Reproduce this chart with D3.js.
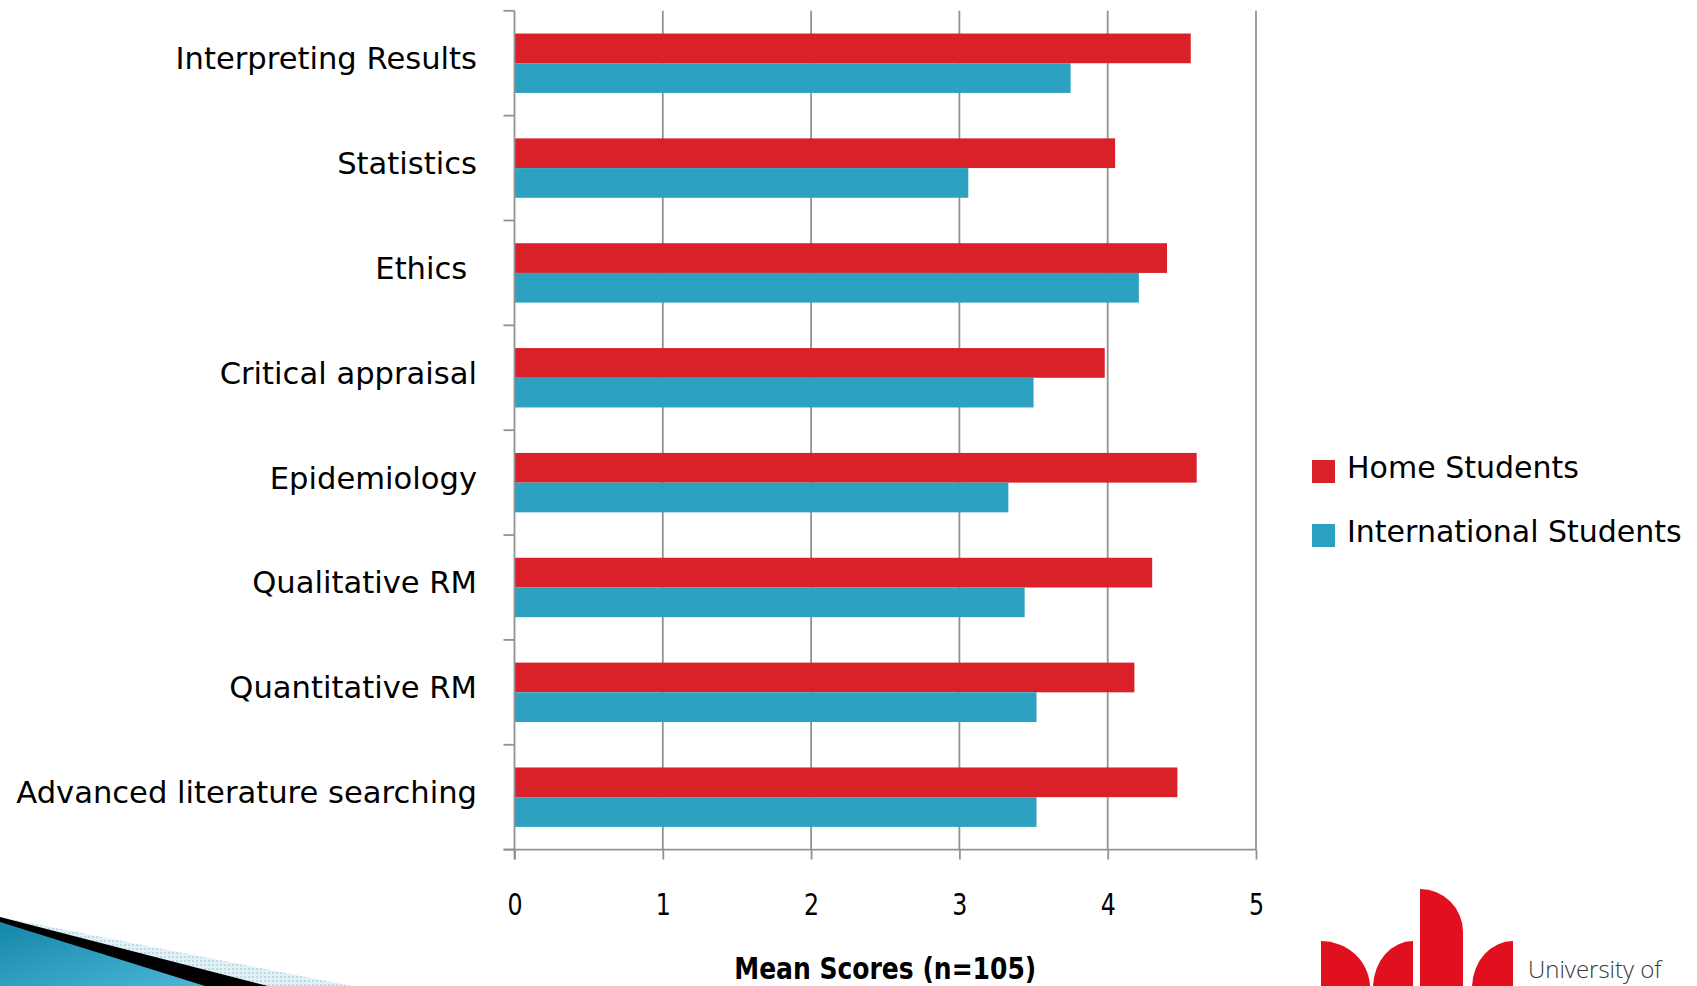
<!DOCTYPE html>
<html>
<head>
<meta charset="utf-8">
<script src="https://cdn.jsdelivr.net/npm/d3@7"></script>
<style>
  html, body { margin: 0; padding: 0; background: #ffffff; }
  svg { display: block; }
</style>
</head>
<body>
<script>
// ---- data ----
const categories = [
  "Interpreting Results",
  "Statistics",
  "Ethics ",
  "Critical appraisal",
  "Epidemiology",
  "Qualitative RM",
  "Quantitative RM",
  "Advanced literature searching"
];
const seriesNames = ["Home Students", "International Students"];
const homeValues = [4.56, 4.05, 4.40, 3.98, 4.60, 4.30, 4.18, 4.47];
const internationalValues = [3.75, 3.06, 4.21, 3.50, 3.33, 3.44, 3.52, 3.52];
const xTickValues = [0, 1, 2, 3, 4, 5];
const xAxisTitle = "Mean Scores (n=105)";
const logoText = "University of";

// ---- layout / style ----
const W = 1697, H = 986;
const colors = { "Home Students": "#da2029", "International Students": "#2ca2c0" };
const gridColor = "#929292";
const labelFont = "'DejaVu Sans', 'Lucida Grande', sans-serif";
const condFont = "'Liberation Sans Narrow', 'DejaVu Sans Condensed', 'Arial Narrow', 'DejaVu Sans', sans-serif";

const svg = d3.select("body").append("svg")
  .attr("width", W).attr("height", H);

// decorations (slide background elements)
const defs = svg.append("defs");
const grad = defs.append("linearGradient").attr("id", "swoosh")
  .attr("x1", "0").attr("y1", "0").attr("x2", "1").attr("y2", "1");
grad.append("stop").attr("offset", "0").attr("stop-color", "#1487aa");
grad.append("stop").attr("offset", "1").attr("stop-color", "#4cb6d6");
const pat = defs.append("pattern").attr("id", "pale")
  .attr("width", 4).attr("height", 4).attr("patternUnits", "userSpaceOnUse");
pat.append("rect").attr("width", 4).attr("height", 4).attr("fill", "#e3f1f6");
pat.append("rect").attr("width", 2).attr("height", 2).attr("fill", "#b9dbe8");

const deco = svg.append("g");
deco.append("path").attr("d", "M0,917 L352,986 L0,986 Z").attr("fill", "url(#pale)");
deco.append("path").attr("d", "M0,917 L268,986 L0,986 Z").attr("fill", "#000");
deco.append("path").attr("d", "M0,922 L205,986 L0,986 Z").attr("fill", "url(#swoosh)");

const logo = svg.append("g").attr("fill", "#e0101f");
logo.append("path").attr("d", "M1321,986 V941 A49,47 0 0 1 1370,986 Z");
logo.append("path").attr("d", "M1413,986 V941 A40,47 0 0 0 1373,986 Z");
logo.append("path").attr("d", "M1420,986 V889 A43,43 0 0 1 1463,932 V986 Z");
logo.append("path").attr("d", "M1513,986 V941 A41,47 0 0 0 1472,986 Z");
svg.append("text").attr("x", 1528).attr("y", 978)
  .attr("font-family", "'Open Sans', 'DejaVu Sans', sans-serif")
  .attr("font-weight", 300)
  .attr("font-size", 24).attr("fill", "#3a3a3a")
  .text(logoText);

// ---- scales ----
const plot = { left: 514.5, right: 1256, top: 10.8, bottom: 849.6 };
const x = d3.scaleLinear().domain([0, 5]).range([plot.left, plot.right]);
const y = d3.scaleBand().domain(categories).range([plot.top, plot.bottom]).padding(0);
const y1 = d3.scaleBand().domain(seriesNames).range([0, y.bandwidth()])
  .paddingInner(0).paddingOuter(0.765);

const rows = categories.map((c, i) => ({
  cat: c,
  values: [
    { key: seriesNames[0], value: homeValues[i] },
    { key: seriesNames[1], value: internationalValues[i] }
  ]
}));

// gridlines
svg.append("g").selectAll("line")
  .data(xTickValues.filter(v => v > 0))
  .join("line")
  .attr("x1", d => x(d)).attr("x2", d => x(d))
  .attr("y1", plot.top).attr("y2", plot.bottom)
  .attr("stroke", gridColor).attr("stroke-width", 1.8);

// bars
svg.append("g").selectAll("g")
  .data(rows)
  .join("g")
  .attr("transform", d => `translate(0,${y(d.cat)})`)
  .selectAll("rect")
  .data(d => d.values)
  .join("rect")
  .attr("x", x(0))
  .attr("y", d => y1(d.key))
  .attr("width", d => x(d.value) - x(0))
  .attr("height", y1.bandwidth())
  .attr("fill", d => colors[d.key]);

// y axis line and boundary ticks
const tickLen = 11;
svg.append("line")
  .attr("x1", x(0)).attr("x2", x(0))
  .attr("y1", plot.top).attr("y2", plot.bottom + 10)
  .attr("stroke", gridColor).attr("stroke-width", 1.8);
const boundaries = categories.map(c => y(c)).concat([plot.bottom]);
svg.append("g").selectAll("line")
  .data(boundaries)
  .join("line")
  .attr("x1", x(0) - tickLen).attr("x2", x(0))
  .attr("y1", d => d).attr("y2", d => d)
  .attr("stroke", gridColor).attr("stroke-width", 1.8);

// x axis
const xAxis = d3.axisBottom(x).tickValues(xTickValues).tickSize(10).tickPadding(0)
  .tickFormat(d3.format("d"));
const gx = svg.append("g").attr("transform", `translate(0,${plot.bottom})`).call(xAxis);
gx.select(".domain").remove();
gx.selectAll(".tick line").attr("stroke", gridColor).attr("stroke-width", 1.8);
gx.selectAll(".tick text")
  .attr("y", 65).attr("dy", null)
  .attr("font-family", condFont).attr("font-size", 31).attr("fill", "#000")
  .attr("transform", "scale(0.85,1)");
svg.append("line")
  .attr("x1", x(0) - tickLen).attr("x2", x(5))
  .attr("y1", plot.bottom).attr("y2", plot.bottom)
  .attr("stroke", gridColor).attr("stroke-width", 1.8);

// category labels
svg.append("g").selectAll("text")
  .data(categories)
  .join("text")
  .attr("x", 477)
  .attr("y", d => y(d) + y.bandwidth() / 2 + 6)
  .attr("text-anchor", "end")
  .style("white-space", "pre")
  .attr("font-family", labelFont).attr("font-size", 30.6).attr("fill", "#000")
  .text(d => d);

// x axis title
svg.append("text")
  .attr("x", (plot.left + plot.right) / 2).attr("y", 979)
  .attr("text-anchor", "middle")
  .attr("font-family", condFont).attr("font-weight", "bold")
  .attr("font-size", 30).attr("fill", "#000")
  .attr("textLength", 302).attr("lengthAdjust", "spacingAndGlyphs")
  .text(xAxisTitle);

// legend
const legend = svg.append("g").selectAll("g")
  .data(seriesNames)
  .join("g")
  .attr("transform", (d, i) => `translate(1312,${460 + i * 64})`);
legend.append("rect").attr("width", 23).attr("height", 23)
  .attr("fill", d => colors[d]);
legend.append("text").attr("x", 35).attr("y", 18)
  .attr("font-family", labelFont).attr("font-size", 30).attr("fill", "#000")
  .text(d => d);
</script>
</body>
</html>
